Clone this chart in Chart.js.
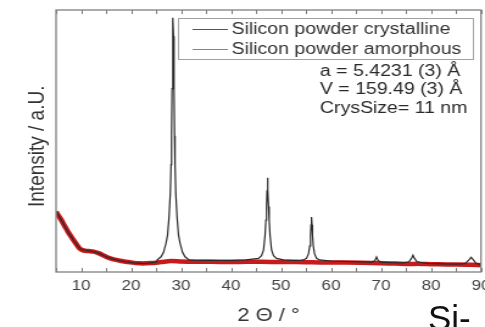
<!DOCTYPE html>
<html>
<head>
<meta charset="utf-8">
<script src="https://cdn.jsdelivr.net/npm/chart.js@4/dist/chart.umd.min.js"></script>
<style>
  html, body { margin: 0; padding: 0; background: #fff; overflow: hidden; }
  body { width: 485px; height: 327px; position: relative; }
  #wrap { position: absolute; left: 0; top: 0; width: 398px; height: 327px;
          transform: scaleX(1.21859); transform-origin: 0 0; }
  #cap { position: absolute; left: 428px; top: 300px; font: 35px "Liberation Sans", Arial, sans-serif;
         line-height: 35px; color: #111; white-space: nowrap; }
</style>
</head>
<body>
<div id="wrap"><canvas id="c"></canvas></div>
<div id="cap">Si-</div>
<script>
// ---- data ----
const crystallineX = [5, 5.5, 6, 6.8, 7.5, 8.5, 9.3, 10, 10.8, 11.8, 12.8, 13.6, 14.5, 15.5, 16.5, 17.8, 19, 20.5, 22, 23.5, 25,
  25.2, 26.0, 26.5, 27.0, 27.3, 27.6, 27.85, 28.0, 28.1, 28.2, 28.3, 28.4, 28.5, 28.6, 28.7, 28.8, 28.95, 29.2, 29.5, 29.8, 30.3, 30.8, 31.6,
  32.5, 36, 40, 43,
  45.5, 46.1, 46.5, 46.8, 46.97, 47.1, 47.2, 47.3, 47.4, 47.5, 47.63, 47.8, 48.1, 48.5, 49.1,
  50.5, 52.5, 54,
  54.5, 55.1, 55.5, 55.75, 55.9, 56.0, 56.1, 56.2, 56.3, 56.45, 56.7, 57.1, 57.7,
  60, 63, 66, 68.3, 68.8, 69.1, 69.4, 70, 72, 74.5, 75.6, 76.1, 76.4, 76.7, 77.2, 79, 82, 85, 86.8, 87.6, 88.0, 88.4, 89, 90];
const crystallineY = [23.2, 21.6, 20.0, 17.2, 15.0, 12.1, 10.0, 8.7, 8.3, 8.0, 7.6, 7.1, 6.3, 5.5, 4.9, 4.3, 3.9, 3.5, 3.3, 3.4, 3.8,
  4.6, 5.8, 7.5, 11, 14, 21, 30, 41, 52, 70, 90, 97, 90, 70, 52, 41, 30, 21, 14, 11, 7.5, 5.8, 4.6,
  4.5, 4.4, 4.4, 4.6,
  5.2, 6.2, 8.4, 14, 19.8, 25, 31, 36, 31, 25, 19.8, 14, 8.4, 6.2, 5.2,
  4.6, 4.4, 4.5,
  4.6, 5.2, 7, 10, 14, 18, 21, 18, 14, 10, 7, 5.2, 4.6,
  4.2, 4.0, 3.9, 3.8, 4.4, 5.7, 4.4, 3.8, 3.6, 3.5, 3.9, 5.2, 6.4, 5.2, 3.9, 3.3, 3.1, 3.0, 3.2, 4.6, 5.6, 4.8, 3.3, 2.8];

const amorphousX = [5, 5.5, 6, 6.8, 7.5, 8.5, 9.3, 9.8, 10.5, 11.5, 12.5, 13.5, 14.5, 15.2, 16.5, 17.8, 19.8, 21.8, 24, 26, 28, 30,
  33, 36, 40, 43, 46, 50, 53, 56, 60, 63, 66, 70, 73, 75, 78, 80, 83, 85, 88, 90];
const amorphousY = [23.0, 21.5, 20.0, 17.3, 15.0, 12.2, 10.0, 8.8, 8.2, 8.0, 7.8, 7.2, 6.3, 5.6, 4.8, 4.3, 3.7, 3.3, 3.4, 3.8, 4.2, 4.0,
  3.9, 3.9, 3.8, 3.9, 3.9, 3.8, 3.8, 3.7, 3.6, 3.6, 3.5, 3.3, 3.2, 3.1, 3.1, 3.0, 2.9, 2.9, 2.8, 2.6];

const xTickLabels = [10, 20, 30, 40, 50, 60, 70, 80, 90];
const tickMarkValues = [5, 10, 15, 20, 25, 30, 35, 40, 45, 50, 55, 60, 65, 70, 75, 80, 85, 90];
const seriesLabels = ['Silicon powder crystalline', 'Silicon powder amorphous'];
const annotationLines = ['a = 5.4231 (3) Å', 'V = 159.49 (3) Å', 'CrysSize= 11 nm'];
const xTitle = '2 Θ / °';
const yTitle = 'Intensity / a.U.  ';

const crystalline = crystallineX.map((x, i) => ({x: x, y: crystallineY[i]}));
const amorphous = amorphousX.map((x, i) => ({x: x, y: amorphousY[i]}));

const FONT = '"Liberation Sans", Arial, sans-serif';

const framePlugin = {
  id: 'frame',
  afterDatasetsDraw(chart) {
    const {ctx, chartArea: a, scales: {x}} = chart;
    ctx.save();
    // inward tick marks, bottom and top
    ctx.strokeStyle = '#7a7a7a';
    ctx.lineWidth = 1;
    tickMarkValues.forEach(v => {
      const px = Math.round(x.getPixelForValue(v)) + 0.5;
      ctx.beginPath();
      ctx.moveTo(px, a.bottom); ctx.lineTo(px, a.bottom - 4);
      ctx.moveTo(px, a.top); ctx.lineTo(px, a.top + 4);
      ctx.stroke();
    });
    // frame
    ctx.strokeStyle = '#808080';
    ctx.lineWidth = 1.3;
    ctx.strokeRect(a.left, a.top, a.right - a.left, a.bottom - a.top);

    // legend box
    const lx = 146, ly = 18, lw = 242, lh = 41;
    ctx.fillStyle = '#fff';
    ctx.fillRect(lx, ly, lw, lh);
    ctx.strokeStyle = '#a0a0a0';
    ctx.lineWidth = 1;
    ctx.strokeRect(lx + 0.5, ly + 0.5, lw, lh);
    const rows = [29, 49];
    const sampleColors = ['#555555', '#d86060'];
    ctx.font = '16px ' + FONT;
    ctx.textBaseline = 'middle';
    ctx.textAlign = 'left';
    chart.data.datasets.forEach((ds, i) => {
      ctx.strokeStyle = sampleColors[i];
      ctx.lineWidth = 1;
      ctx.beginPath();
      ctx.moveTo(158, rows[i] + 0.5); ctx.lineTo(187, rows[i] + 0.5);
      ctx.stroke();
      ctx.fillStyle = '#333';
      ctx.fillText(ds.label, 190, rows[i] + 1);
    });
    // annotations
    ctx.fillStyle = '#2a2a2a';
    const ay = [72, 90, 109];
    annotationLines.forEach((t, i) => ctx.fillText(t, 262.5, ay[i]));
    ctx.restore();
  }
};

new Chart(document.getElementById('c'), {
  type: 'line',
  data: {
    datasets: [
      { label: seriesLabels[0], data: crystalline, borderColor: '#2b2b2b', borderWidth: 1.2,
        pointRadius: 0, tension: 0, fill: false },
      { label: seriesLabels[1], data: amorphous, borderColor: '#c81a1a', borderWidth: 4.5,
        pointRadius: 0, tension: 0.3, fill: false }
    ]
  },
  options: {
    responsive: true,
    maintainAspectRatio: false,
    animation: false,
    events: [],
    layout: { padding: { left: 0, right: 3.3, top: 10, bottom: 0 } },
    plugins: { legend: { display: false }, tooltip: { enabled: false } },
    scales: {
      x: {
        type: 'linear', min: 5, max: 90, position: 'bottom',
        grid: { display: false, drawTicks: false },
        border: { display: false },
        afterBuildTicks: s => { s.ticks = xTickLabels.map(v => ({value: v})); },
        afterFit: s => { s.height = 55; s.paddingLeft = 0; s.paddingRight = 0; },
        ticks: { color: '#444', padding: 6, maxRotation: 0, autoSkip: false,
                 font: { family: FONT, size: 14 } },
        title: { display: true, text: xTitle, color: '#333',
                 font: { family: FONT, size: 18, lineHeight: 1 }, padding: { top: 0, bottom: 2 } }
      },
      y: {
        min: 0, max: 100, position: 'left',
        grid: { display: false, drawTicks: false },
        border: { display: false },
        ticks: { display: false },
        afterFit: s => { s.width = 46; },
        title: { display: true, text: yTitle, color: '#333',
                 font: { family: FONT, size: 19, lineHeight: 1 }, padding: { top: 21, bottom: 0 } }
      }
    }
  },
  plugins: [framePlugin]
});
</script>
</body>
</html>
